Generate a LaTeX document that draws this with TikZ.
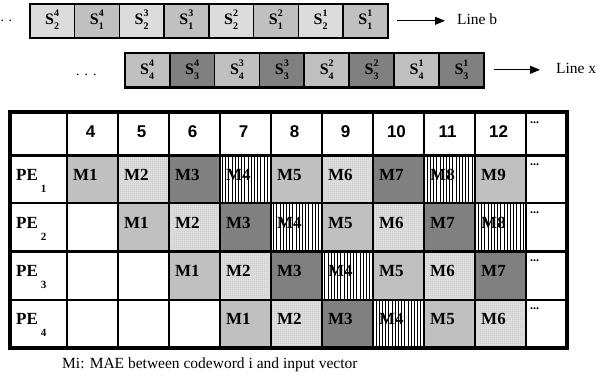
\documentclass[tikz,border=0pt]{standalone}
\usepackage{fontspec}
\setmainfont{Liberation Serif}
\newfontfamily\hdrfont{Liberation Sans}
\usetikzlibrary{patterns,arrows.meta}
\definecolor{paleg}{HTML}{DCDCDC}
\definecolor{midg}{HTML}{C0C0C0}
\definecolor{darkg}{HTML}{808080}
\pgfdeclarepatternformonly{finedots}{\pgfqpoint{-0.6pt}{-0.6pt}}{\pgfqpoint{1.6pt}{1.6pt}}{\pgfqpoint{2pt}{2pt}}{%
  \pgfpathcircle{\pgfqpoint{0pt}{0pt}}{0.47pt}%
  \pgfpathcircle{\pgfqpoint{1pt}{1pt}}{0.47pt}%
  \pgfusepath{fill}}
\pgfdeclarepatternformonly{vbars}{\pgfqpoint{0pt}{-0.5pt}}{\pgfqpoint{3.2pt}{3.7pt}}{\pgfqpoint{3.2pt}{3.2pt}}{%
  \pgfsetlinewidth{1pt}%
  \pgfpathmoveto{\pgfqpoint{1.6pt}{-0.5pt}}\pgfpathlineto{\pgfqpoint{1.6pt}{3.7pt}}%
  \pgfusepath{stroke}}
\newcommand{\Sv}[2]{\textbf{S}\rlap{\raisebox{8pt}{\fontsize{10}{10}\selectfont\bfseries #1}}\raisebox{-5.5pt}{\fontsize{10}{10}\selectfont\bfseries #2}}
\begin{document}
\begin{tikzpicture}[x=1pt,y=-1pt,
  sbox/.style={draw=black,line width=1.6pt,minimum width=44.75pt,minimum height=34pt,inner sep=0pt,anchor=north west},
  stxt/.style={inner sep=0pt,font=\fontsize{16}{16}\selectfont},
  lbl/.style={inner sep=0pt,anchor=base west,font=\fontsize{15.5}{16}\selectfont},
  arr/.style={-{Triangle[length=10pt,width=8pt]},line width=0.9pt},
  mlab/.style={inner sep=0pt,anchor=base west,font=\fontsize{17}{17}\selectfont\bfseries},
  hlab/.style={inner sep=0pt,anchor=base,font=\fontsize{17}{17}\hdrfont\bfseries},
  dlab/.style={inner sep=0pt,anchor=base west,font=\fontsize{12}{12}\selectfont\bfseries},
  c0/.style={pattern=vbars,pattern color=black},
  c1/.style={fill=midg},
  c2/.style={pattern=finedots,pattern color=black!85},
  c3/.style={fill=darkg},
  inner line/.style={line width=2.2pt},
]
\useasboundingbox (0,0) rectangle (598,378);

% ---------- Line b ----------
\node[inner sep=0pt,anchor=base west,font=\fontsize{14}{14}\selectfont] (bdots) at (0.5,21) {.\hspace{4.5pt}.};
\foreach \pa/\pb/\fc [count=\i from 0] in {4/2/paleg,4/1/midg,3/2/paleg,3/1/midg,2/2/paleg,2/1/midg,1/2/paleg,1/1/midg} {
  \node[sbox,fill=\fc] (b\i) at ({29+\i*44.75},3) {};
  \node[stxt] (bt\i) at ([yshift=1pt]b\i.center) {\Sv{\pa}{\pb}};
}
\node[lbl] (lb) at (457,24) {Line b};
\draw[arr,shorten <=8pt,shorten >=12pt] (b7.east) -- (b7.east -| lb.west);

% ---------- Line x ----------
\node[inner sep=0pt,anchor=base west,font=\fontsize{14}{14}\selectfont] (xdots) at (76,75) {.\hspace{5pt}.\hspace{5pt}.};
\foreach \pa/\pb/\fc [count=\i from 0] in {4/4/midg,4/3/darkg,3/4/midg,3/3/darkg,2/4/midg,2/3/darkg,1/4/midg,1/3/darkg} {
  \node[sbox,fill=\fc] (x\i) at ({124+\i*44.9},52) {};
  \node[stxt] (xt\i) at ([yshift=0pt]x\i.center) {\Sv{\pa}{\pb}};
}
\draw[line width=3pt] (x0.south west) -- (x7.south east);
\node[lbl] (lx) at (556,73) {Line x};
\draw[arr,shorten <=9pt,shorten >=16pt] (x7.east) -- (x7.east -| lx.west);

% ---------- Table cells ----------
\foreach \r in {1,...,4} {
  \pgfmathtruncatemacro\kmax{10-\r}
  \pgfmathsetmacro\yt{155+(\r-1)*48.25}
  \foreach \k in {1,...,\kmax} {
    \pgfmathtruncatemacro\j{\k+\r-1}
    \pgfmathtruncatemacro\t{mod(\k,4)}
    \pgfmathsetmacro\xl{67+(\j-1)*51}
    \fill[c\t] (\xl,\yt) rectangle ++(51,48.25);
    \node[mlab] (m\r-\k) at (\xl+6,\yt+25) {M\k};
  }
  \node[mlab] (pe\r) at (16,\yt+25) {PE\kern3pt\raisebox{-12pt}{\fontsize{11}{11}\selectfont\bfseries\r}};
  \node[dlab] (dr\r) at (530,\yt+10) {...};
}
% header
\foreach \c [count=\j from 1] in {4,...,12} {
  \node[hlab] (h\c) at ({67+(\j-0.5)*51-2},137) {\c};
}
\node[dlab] (dh) at (530,123) {...};

% ---------- Grid ----------
\foreach \j in {1,...,10} {
  \draw[inner line] ({67+(\j-1)*51},112) -- ({67+(\j-1)*51},348);
}
\foreach \r in {2,3,4} {
  \draw[inner line] (10,{155+(\r-1)*48.25}) -- (567,{155+(\r-1)*48.25});
}
\draw[line width=3pt] (10,155) -- (567,155);
\draw[line width=3.6pt] (10,112) rectangle (567,348);

% ---------- Caption ----------
\node[lbl] (cap) at (62,368) {Mi: MAE between codeword i and input vector};
\end{tikzpicture}
\end{document}
